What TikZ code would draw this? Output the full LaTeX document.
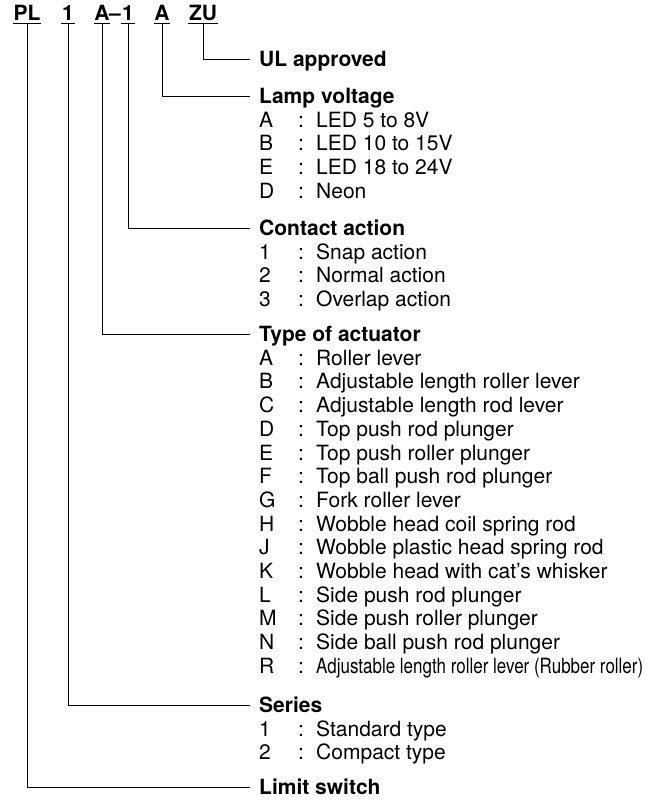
\documentclass[tikz,border=0pt]{standalone}
\usepackage{fontspec}
\setmainfont{TeX Gyre Heros}
\usepackage{graphicx}
\usepackage{array}
\usepackage{tikz}
\usetikzlibrary{positioning}

\begin{document}
\begin{tikzpicture}[
		x=1pt,
		y=-1pt,
		font=\fontsize{21}{23.7}\selectfont,
		code/.style={font=\fontsize{21}{23.7}\selectfont\bfseries, anchor=base, inner xsep=0.5pt, inner ysep=0pt, text height=15pt, text depth=3.5pt},
		head/.style={font=\fontsize{21}{23.7}\selectfont\bfseries, anchor=west, inner xsep=9pt, inner ysep=0pt, text height=15pt, text depth=0pt},
		items/.style={anchor=base west, inner sep=0pt, align=left},
		link/.style={line width=0.9pt}
		]
		\useasboundingbox (0,0) rectangle (657,803);
		
		% Order code
		\node[code] (cPL) at (27,20) {PL};
		\node[code] (cSer) at (68,20) {1};
		\node[code] (cAct) at (102,20) {A};
		\node[code, inner xsep=0pt] (dash) at (115,20) {\textendash};
		\node[code] (cCon) at (128,20) {1};
		\node[code] (cLamp) at (162,20) {A};
		\node[code] (cUL) at (203,20) {ZU};
		\foreach \c in {cPL,cSer,cAct,cCon,cLamp,cUL}
			\draw[line width=1pt] (\c.south west) -- (\c.south east);
		
		% Headings
		\node[head] (ul) at (250,59) {UL approved};
		\node[head] (lamp) at (250,96) {Lamp voltage};
		\node[head] (contact) at (250,228) {Contact action};
		\node[head] (actuator) at (250,334) {Type of actuator};
		\node[head] (series) at (250,705) {Series};
		\node[head] (limit) at (250,787) {Limit switch};
		
		% Lists
		\node[items] (lampList) at (259,127.2) {\begin{tabular}[t]{@{}p{39pt}@{}p{18pt}@{}l@{}}
			A & : & LED 5 to 8V\\
			B & : & LED 10 to 15V\\
			E & : & LED 18 to 24V\\
			D & : & Neon
		\end{tabular}};
		\node[items] (contactList) at (259,259.2) {\begin{tabular}[t]{@{}p{39pt}@{}p{18pt}@{}l@{}}
			1 & : & Snap action\\
			2 & : & Normal action\\
			3 & : & Overlap action
		\end{tabular}};
		\node[items] (actuatorList) at (259,365.2) {\begin{tabular}[t]{@{}p{39pt}@{}p{18pt}@{}l@{}}
			A & : & Roller lever\\
			B & : & Adjustable length roller lever\\
			C & : & Adjustable length rod lever\\
			D & : & Top push rod plunger\\
			E & : & Top push roller plunger\\
			F & : & Top ball push rod plunger\\
			G & : & Fork roller lever\\
			H & : & Wobble head coil spring rod\\
			J & : & Wobble plastic head spring rod\\
			K & : & Wobble head with cat’s whisker\\
			L & : & Side push rod plunger\\
			M & : & Side push roller plunger\\
			N & : & Side ball push rod plunger\\
			R & : & \resizebox{327pt}{\height}{Adjustable length roller lever (Rubber roller)}
		\end{tabular}};
		\node[items] (seriesList) at (259,736.2) {\begin{tabular}[t]{@{}p{39pt}@{}p{18pt}@{}l@{}}
			1 & : & Standard type\\
			2 & : & Compact type
		\end{tabular}};
		
		% Connectors
		\draw[link] (cUL.south) |- (ul.west);
		\draw[link] (cLamp.south) |- (lamp.west);
		\draw[link] (cCon.south) |- (contact.west);
		\draw[link] (cAct.south) |- (actuator.west);
		\draw[link] (cSer.south) |- (series.west);
		\draw[link] (cPL.south) |- (limit.west);
	\end{tikzpicture}
\end{document}
